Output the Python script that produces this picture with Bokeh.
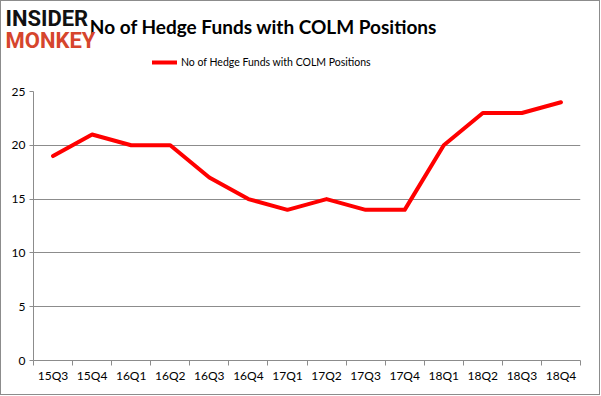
from bokeh.plotting import figure
from bokeh.layouts import column
from bokeh.models import (FixedTicker, Label, Legend, LegendItem, Range1d, ColumnDataSource)
from bokeh.embed import file_html
from bokeh.resources import INLINE

categories = ["15Q3", "15Q4", "16Q1", "16Q2", "16Q3", "16Q4", "17Q1", "17Q2",
              "17Q3", "17Q4", "18Q1", "18Q2", "18Q3", "18Q4"]
hedge_funds = [19, 21, 20, 20, 17, 15, 14, 15, 14, 14, 20, 23, 23, 24]
y_ticks = [0, 5, 10, 15, 20, 25]
series_name = "No of Hedge Funds with COLM Positions"
title_text = "No of Hedge Funds with COLM Positions"

n = len(categories)
xs = list(range(n))
src = ColumnDataSource(dict(x=xs, y=hedge_funds, cat=categories))

LINE_COLOR = "#ff0000"
GRID_COLOR = "#8c8c8c"
W = 598
HEAD_H = 70

# ---------------- header (title, logo, legend) ----------------
h = figure(width=W, height=HEAD_H, output_backend="svg", toolbar_location=None,
           x_range=Range1d(0, W), y_range=Range1d(0, HEAD_H),
           x_axis_location=None, y_axis_location=None,
           min_border_left=0, min_border_right=0, min_border_top=0,
           min_border_bottom=0)
try:
    h.frame_align = False
except Exception:
    pass
h.outline_line_color = None
h.xgrid.grid_line_color = None
h.ygrid.grid_line_color = None
h.border_fill_color = "white"
h.background_fill_color = "white"

# legend key: same style as the series line, its data kept outside the header view
key_src = ColumnDataSource(dict(x=[-20, -10], y=[-20, -20]))
key = h.line("x", "y", source=key_src, line_color=LINE_COLOR, line_width=4,
             line_cap="round")
legend = Legend(items=[LegendItem(label=series_name, renderers=[key])],
                location=(151, 1), orientation="horizontal",
                padding=0, margin=0, border_line_color=None,
                background_fill_alpha=0, glyph_width=25, glyph_height=16,
                label_standoff=4, label_text_font="Lato",
                label_text_font_size="10.5px", label_text_color="#000000")
h.add_layout(legend, "center")

h.add_layout(Label(x=262, y=45, x_units="screen", y_units="screen",
                   text=title_text, text_font="Lato", text_font_style="bold",
                   text_font_size="19px", text_align="center",
                   text_baseline="middle", text_color="#000000"))
h.add_layout(Label(x=4, y=53, x_units="screen", y_units="screen",
                   text="INSIDER", text_font="Roboto",
                   text_font_style="bold", text_font_size="22px",
                   text_align="left", text_baseline="middle",
                   text_color="#111111"))
h.add_layout(Label(x=4, y=31, x_units="screen", y_units="screen",
                   text="MONKEY", text_font="Roboto",
                   text_font_style="bold", text_font_size="22px",
                   text_align="left", text_baseline="middle",
                   text_color="#d6452d"))

# ---------------- chart ----------------
p = figure(width=W, height=393 - HEAD_H, output_backend="svg", toolbar_location=None,
           x_range=Range1d(-0.5, n - 0.5), y_range=Range1d(0, 25),
           min_border_left=32, min_border_right=19, min_border_top=90 - HEAD_H,
           min_border_bottom=34)
try:
    p.frame_align = False
except Exception:
    pass
p.outline_line_color = None
p.background_fill_color = "white"
p.border_fill_color = "white"

r = p.line("x", "y", source=src, line_color=LINE_COLOR, line_width=4,
           line_join="round", line_cap="round")

p.xaxis.ticker = FixedTicker(ticks=xs, minor_ticks=[i - 0.5 for i in range(n + 1)])
p.xaxis.major_label_overrides = {i: c for i, c in enumerate(categories)}
p.xaxis.major_tick_line_color = None
p.xaxis.minor_tick_line_color = GRID_COLOR
p.xaxis.minor_tick_out = 5
p.xaxis.minor_tick_in = 0
p.xaxis.axis_line_color = GRID_COLOR
p.xaxis.major_label_text_font = "Lato"
p.xaxis.major_label_text_font_size = "12px"
p.xaxis.major_label_text_color = "#000000"
p.xaxis.major_label_standoff = 1

p.yaxis.ticker = FixedTicker(ticks=y_ticks)
p.yaxis.axis_line_color = GRID_COLOR
p.yaxis.major_tick_line_color = GRID_COLOR
p.yaxis.major_tick_out = 4
p.yaxis.major_tick_in = 0
p.yaxis.minor_tick_line_color = None
p.yaxis.major_label_text_font = "Lato"
p.yaxis.major_label_text_font_size = "12px"
p.yaxis.major_label_text_color = "#000000"
p.yaxis.major_label_standoff = 4

p.xgrid.grid_line_color = None
p.ygrid.ticker = FixedTicker(ticks=y_ticks)
p.ygrid.grid_line_color = GRID_COLOR
p.ygrid.grid_line_width = 1

layout = column(h, p, spacing=0)
layout.styles = {"border": "1px solid #8c8c8c", "gap": "0px"}

open("out.html", "w").write(file_html(layout, INLINE))
